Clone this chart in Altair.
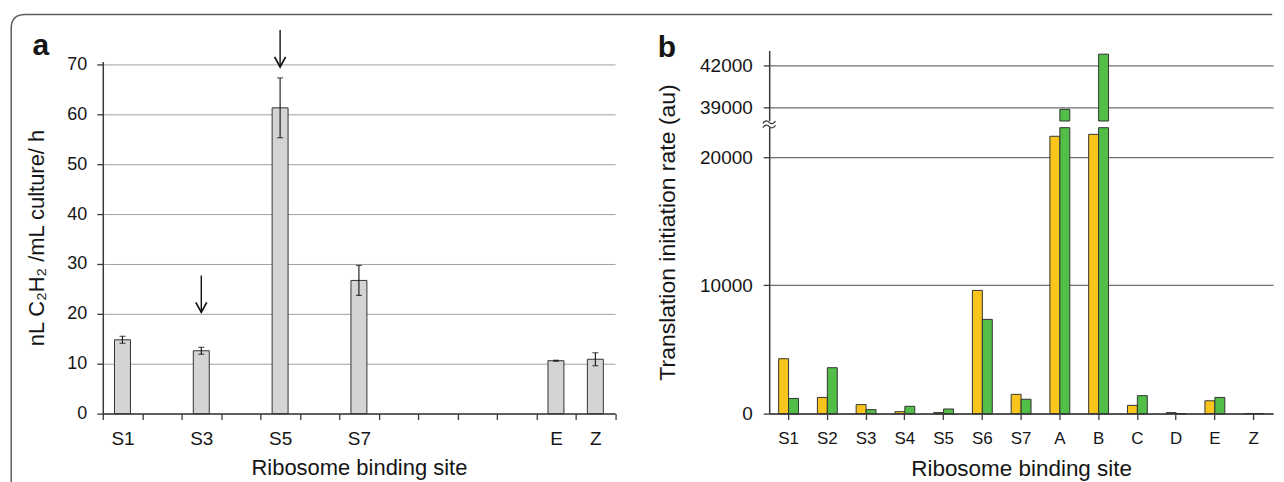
import json
import altair as alt
import pandas as pd

# ---------------- data ----------------
# Panel a: nitrogenase activity
a_sites = ["S1", "S2", "S3", "S4", "S5", "S6", "S7", "A", "B", "C", "D", "E", "Z"]
a_shown = ["S1", "S3", "S5", "S7", "E", "Z"]
a_values = [14.8, None, 12.6, None, 61.3, None, 26.7, None, None, None, None, 10.6, 10.9]
a_errors = [0.7, None, 0.7, None, 6.0, None, 3.0, None, None, None, None, 0.1, 1.3]
a_ticks = [0, 10, 20, 30, 40, 50, 60, 70]
arrow_sites = ["S3", "S5"]
arrow_tail = [27.7, 76.9]
arrow_tip = [20.3, 69.5]

# Panel b: predicted translation initiation rate
b_sites = ["S1", "S2", "S3", "S4", "S5", "S6", "S7", "A", "B", "C", "D", "E", "Z"]
b_series = ["yellow", "green"]
b_yellow = [4280, 1260, 700, 150, 80, 9610, 1500, 21630, 21780, 640, 80, 1000, 0]
b_green = [1180, 3580, 310, 570, 360, 7350, 1120, 38880, 42800, 1400, 0, 1260, 0]
b_ticks = [0, 10000, 20000, 39000, 42000]
break_lo = 22300
break_hi = 38050
b_top = 43064

panel_labels = ["a", "b"]

# ---------------- style ----------------
FONT = "Liberation Sans"
TXT = "#151515"
AXC = "#3a3a3a"
BAR_STROKE = "#333333"

df_a = pd.DataFrame({"site": a_sites, "value": a_values, "err": a_errors})
df_a["lo"] = df_a["value"] - df_a["err"]
df_a["hi"] = df_a["value"] + df_a["err"]
df_arrow = pd.DataFrame({"site": arrow_sites, "tail": arrow_tail, "tip": arrow_tip})

rows = []
for s, yv, gv in zip(b_sites, b_yellow, b_green):
    rows.append({"site": s, "series": b_series[0], "value": yv})
    rows.append({"site": s, "series": b_series[1], "value": gv})
df_b = pd.DataFrame(rows)
df_brk = pd.DataFrame({"lo": [break_lo], "hi": [break_hi]})

one_a = pd.DataFrame({"t": [panel_labels[0]]})
one_b = pd.DataFrame({"t": [panel_labels[1]]})

# ---------------- panel a ----------------
label_expr = f"indexof({json.dumps(a_shown)}, datum.value) >= 0 ? datum.value : ''"
xa_axis = alt.Axis(title="Ribosome binding site", labelExpr=label_expr, tickBand="extent",
                   labelAngle=0, labelFontSize=19, titleFontSize=22, tickSize=6,
                   labelPadding=10, titlePadding=9, domainWidth=1.5, tickWidth=1.3)
scale_xa = alt.Scale(domain=a_sites, paddingInner=0, paddingOuter=0)
ya_axis = alt.Axis(title="nL C₂H₂ /mL culture/ h", values=a_ticks, grid=True,
                   gridColor="#a0a0a0", gridWidth=1, labelFontSize=18, titleFontSize=22,
                   tickSize=6, labelPadding=10, titlePadding=18, domainWidth=1.5, tickWidth=1.3)
scale_ya = alt.Scale(domain=[0, 70.6], range=[364, 11], nice=False, zero=False)


def xa():
    return alt.X("site:N", sort=a_sites, scale=scale_xa, axis=xa_axis)


def ya(field):
    return alt.Y(field, scale=scale_ya, axis=ya_axis)


bars_a = alt.Chart(df_a).mark_bar(width=16, fill="#d4d4d4", stroke=BAR_STROKE, strokeWidth=1).encode(
    x=xa(), y=ya("value:Q"))
err_a = alt.Chart(df_a).mark_rule(color="#111111", strokeWidth=1.1).encode(
    x=xa(), y=ya("lo:Q"), y2="hi:Q")
cap_lo = alt.Chart(df_a).mark_tick(color="#111111", size=6, thickness=1.2).encode(
    x=xa(), y=ya("lo:Q"))
cap_hi = alt.Chart(df_a).mark_tick(color="#111111", size=6, thickness=1.2).encode(
    x=xa(), y=ya("hi:Q"))
arrow_shaft = alt.Chart(df_arrow).mark_rule(color="#111111", strokeWidth=1.4).encode(
    x=xa(), y=ya("tail:Q"), y2="tip:Q")
arrow_head = alt.Chart(df_arrow).mark_point(
    shape="M-0.55,-1L0,0L0.55,-1", filled=False, size=400, strokeWidth=1.7,
    color="#111111", opacity=1).encode(x=xa(), y=ya("tip:Q"))
label_a = alt.Chart(one_a).mark_text(font=FONT, fontSize=30, fontWeight="bold", color=TXT,
                                     align="left", baseline="alphabetic").encode(
    x=alt.value(-70.5), y=alt.value(5), text="t:N")
# decorative figure frame (top and left edges with a rounded corner), path in pixel units
frame = alt.Chart(one_a).mark_point(
    shape="M0,470L0,14Q0,0,14,0L1264,0", size=4, filled=False, stroke="#5e5e5e",
    strokeWidth=1.5, opacity=1).encode(x=alt.value(-91.8), y=alt.value(-36))

panel_a = alt.layer(bars_a, err_a, cap_lo, cap_hi, arrow_shaft, arrow_head, label_a, frame).properties(
    width=513.5, height=364)

# ---------------- panel b ----------------
xb_axis = alt.Axis(title="Ribosome binding site", labelAngle=0, labelFontSize=17, titleFontSize=22.5,
                   tickSize=6, labelPadding=11, titlePadding=11, domainWidth=1.5, tickWidth=1.3)
scale_xb = alt.Scale(domain=b_sites, paddingInner=0, paddingOuter=0)
yb_axis = alt.Axis(title="Translation initiation rate (au)", values=b_ticks, format="d", grid=True,
                   gridColor="#6e6e6e", gridWidth=1.2, labelFontSize=19, titleFontSize=23,
                   tickSize=6, labelPadding=11, titlePadding=20, domainWidth=1.5, tickWidth=1.3)
scale_yb = alt.Scale(domain=[0, break_lo, break_hi, b_top], range=[364, 77.4, 70.7, 0],
                     nice=False, zero=False)
xoff = alt.XOffset("series:N", sort=b_series, scale=alt.Scale(paddingInner=0, paddingOuter=0.95))
col_b = alt.Color("series:N", scale=alt.Scale(domain=b_series, range=["#F8C51C", "#52BE48"]),
                  legend=None)


def xb():
    return alt.X("site:N", sort=b_sites, scale=scale_xb, axis=xb_axis)


def yb(field):
    return alt.Y(field, scale=scale_yb, axis=yb_axis)


lower_b = alt.Chart(df_b).transform_calculate(
    base="0", top=f"min(datum.value, {break_lo})").mark_bar(
    stroke=BAR_STROKE, strokeWidth=1, opacity=1).encode(
    x=xb(), xOffset=xoff, y=yb("base:Q"), y2="top:Q", color=col_b)
upper_b = alt.Chart(df_b).transform_filter(f"datum.value > {break_hi}").transform_calculate(
    base=f"{break_hi}").mark_bar(stroke=BAR_STROKE, strokeWidth=1, opacity=1).encode(
    x=xb(), xOffset=xoff, y=yb("base:Q"), y2="value:Q", color=col_b)
brk_gap = alt.Chart(df_brk).mark_rule(color="white", strokeWidth=6).encode(
    x=alt.value(0), y=yb("lo:Q"), y2="hi:Q")
brk_mark = alt.Chart(df_brk).transform_calculate(mid="(datum.lo + datum.hi) / 2").mark_point(
    shape="M-0.9,-0.15Q-0.45,-0.75,0,-0.3T0.9,-0.45M-0.9,0.45Q-0.45,-0.15,0,0.3T0.9,0.15",
    size=200, filled=False, stroke=AXC, strokeWidth=1.2, opacity=1).encode(
    x=alt.value(0), y=yb("mid:Q"))
label_b = alt.Chart(one_b).mark_text(font=FONT, fontSize=30, fontWeight="bold", color=TXT,
                                     align="left", baseline="alphabetic").encode(
    x=alt.value(-111.7), y=alt.value(6.7), text="t:N")

panel_b = alt.layer(lower_b, upper_b, brk_gap, brk_mark, label_b).properties(width=505, height=364)

chart = alt.hconcat(panel_a, panel_b, spacing=154, bounds="flush").properties(
    padding={"left": 0, "top": 3, "right": 0, "bottom": 0}
).configure_view(strokeWidth=0).configure_axis(
    labelFont=FONT, titleFont=FONT, labelColor=TXT, titleColor=TXT, titleFontWeight="normal",
    domainColor=AXC, tickColor=AXC
)

chart.save("out.html", embed_options={"renderer": "svg", "actions": False})
